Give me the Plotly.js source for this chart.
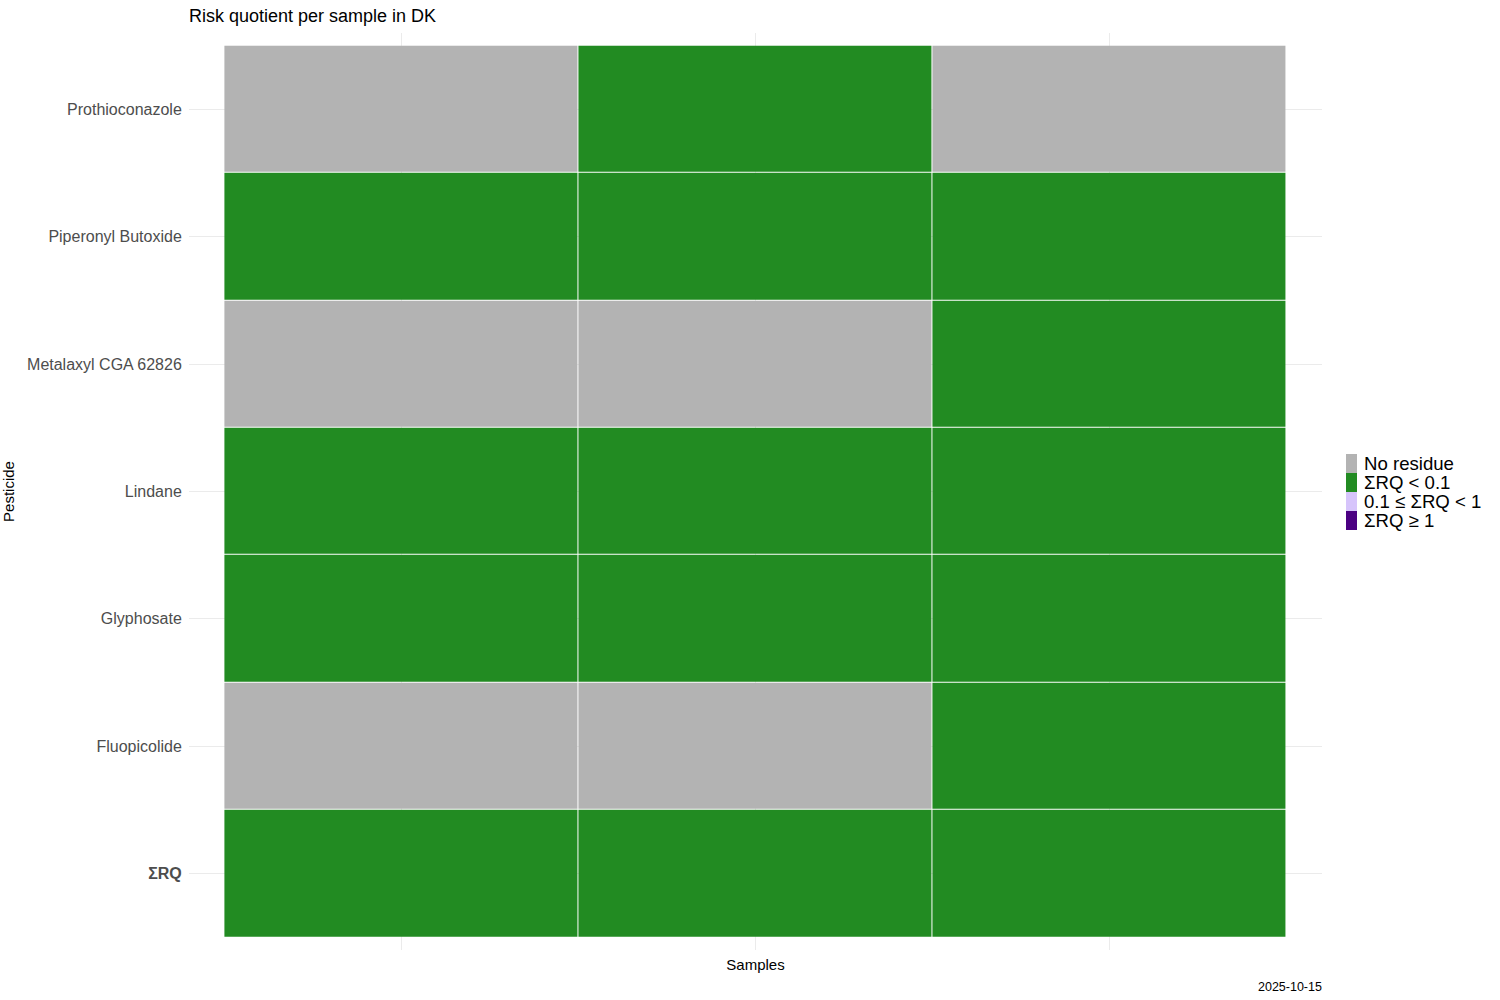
<!DOCTYPE html>
<html>
<head>
<meta charset="utf-8">
<script src="https://cdn.plot.ly/plotly-3.0.1.min.js"></script>
<style>body{margin:0;background:#fff;}#chart{width:1500px;height:1000px;}</style>
</head>
<body>
<div id="chart"></div>
<script>
// Data
const samples = ['Sample 1', 'Sample 2', 'Sample 3'];
// bottom to top
const pesticides = ['<b>ΣRQ</b>', 'Fluopicolide', 'Glyphosate', 'Lindane', 'Metalaxyl CGA 62826', 'Piperonyl Butoxide', 'Prothioconazole'];
// class codes: 0 = No residue, 1 = ΣRQ < 0.1, 2 = 0.1 ≤ ΣRQ < 1, 3 = ΣRQ ≥ 1
const sumRQ = [1, 1, 1];
const fluopicolide = [0, 0, 1];
const glyphosate = [1, 1, 1];
const lindane = [1, 1, 1];
const metalaxyl = [0, 0, 1];
const piperonyl = [1, 1, 1];
const prothioconazole = [0, 1, 0];
const classLabels = ['No residue', 'ΣRQ < 0.1', '0.1 ≤ ΣRQ < 1', 'ΣRQ ≥ 1'];
const classColors = ['#B3B3B3', '#228B22', '#D6C4FB', '#4B0082'];

const z = [sumRQ, fluopicolide, glyphosate, lindane, metalaxyl, piperonyl, prothioconazole];

const colorscale = [];
classColors.forEach((c, i) => {
  colorscale.push([i / 4, c]);
  colorscale.push([(i + 1) / 4, c]);
});

const traces = [{
  type: 'heatmap',
  x: samples,
  y: pesticides,
  z: z,
  zmin: 0, zmax: 3,
  colorscale: colorscale,
  showscale: false,
  xgap: 1, ygap: 1,
  showlegend: false,
  hoverinfo: 'skip'
}];

// Plot area geometry (for legend placement in paper coordinates)
const L = 189, R = 1322, T = 33, B = 950;
const PW = R - L, PH = B - T;
const px2x = p => (p - L) / PW;
const px2y = p => (B - p) / PH;

const shapes = [];
const annotations = [];
const keyTop = 454, keyH = 19, keyX0 = 1346, keyX1 = 1357, textX = 1362;
classLabels.forEach((lab, i) => {
  const y0 = keyTop + i * keyH;
  shapes.push({type: 'rect', xref: 'paper', yref: 'paper',
    x0: px2x(keyX0), x1: px2x(keyX1), y0: px2y(y0 + keyH), y1: px2y(y0),
    fillcolor: classColors[i], line: {width: 0}});
  annotations.push({text: lab, xref: 'paper', yref: 'paper',
    x: px2x(textX), y: px2y(y0 + keyH / 2), xanchor: 'left', yanchor: 'middle',
    showarrow: false, font: {size: 18.6, color: '#000'}});
});
annotations.push({
  text: '2025-10-15', xref: 'paper', yref: 'paper', x: 1, y: px2y(987), xshift: 2,
  xanchor: 'right', yanchor: 'middle', showarrow: false, font: {size: 12.5, color: '#000'}
});

const layout = {
  width: 1500, height: 1000,
  paper_bgcolor: '#fff', plot_bgcolor: '#fff',
  margin: {l: L, r: 1500 - R, t: T, b: 1000 - B, autoexpand: false},
  showlegend: false,
  font: {family: 'Liberation Sans, Arial, sans-serif', color: '#000'},
  title: {text: 'Risk quotient per sample in DK', x: 189/1500, xref: 'container', xanchor: 'left',
          y: 1 - 16/1000, yref: 'container', yanchor: 'middle', font: {size: 18, color: '#000'}},
  xaxis: {
    type: 'category', categoryorder: 'array', categoryarray: samples,
    range: [-0.6, 2.6], showticklabels: false, ticks: '',
    showgrid: true, gridcolor: '#EBEBEB', gridwidth: 1, zeroline: false, showline: false,
    title: {text: 'Samples', font: {size: 15, color: '#000'}, standoff: 9}
  },
  yaxis: {
    type: 'category', categoryorder: 'array', categoryarray: pesticides,
    range: [-0.6, 6.6], ticks: 'outside', ticklen: 3, tickcolor: 'rgba(0,0,0,0)',
    tickfont: {size: 16, color: '#4D4D4D'},
    showgrid: true, gridcolor: '#EBEBEB', gridwidth: 1, zeroline: false, showline: false,
    title: {text: 'Pesticide', font: {size: 15, color: '#000'}, standoff: 8}
  },
  shapes: shapes,
  annotations: annotations
};

Plotly.newPlot('chart', traces, layout, {displayModeBar: false});
</script>
</body>
</html>
